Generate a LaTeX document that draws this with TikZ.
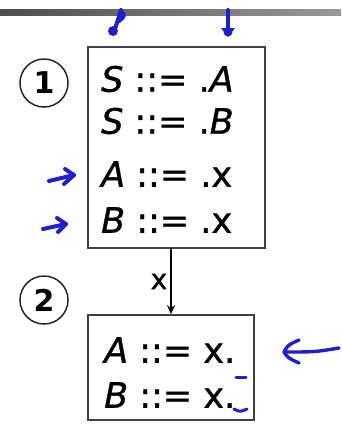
\documentclass[tikz,border=0pt]{standalone}
\usepackage{fontspec}
\setmainfont{DejaVu Sans}[FakeBold=1]
\newfontfamily\digitfont{DejaVu Sans}
\usetikzlibrary{arrows.meta}
\definecolor{pen}{RGB}{30,30,210}
\begin{document}
\begin{tikzpicture}[x=1pt,y=-1pt,
  statebox/.style={draw=black!75,line width=1.7pt,inner sep=0pt},
  rule/.style={anchor=west,inner sep=0pt,font=\fontsize{35}{40}\selectfont},
  numcirc/.style={draw=black!85,line width=1.5pt,circle,minimum size=48pt,inner sep=0pt,font=\digitfont\fontsize{30}{34}\selectfont\bfseries},
  ink/.style={draw=pen,line width=4pt,line cap=round,line join=round},
  edge/.style={draw=black,line width=1.5pt,-{Stealth[length=9pt,width=8pt]}}
]
\useasboundingbox (0,0) rectangle (341,424);
% top gray bar
\shade[left color=black!70,right color=black!40] (0,9) rectangle (341,15);
% boxes
\node[statebox,minimum width=177pt,minimum height=201pt] (box1) at (176.5,147.5) {};
\node[statebox,minimum width=166pt,minimum height=105pt] (box2) at (171,367.5) {};
% circles
\node[numcirc] (c1) at (44,83) {1};
\node[numcirc] (c2) at (44,300) {2};
% rules
\node[rule] (r1) at (101,79) {\textit{S} ::= .\textit{A}};
\node[rule] (r2) at (101,121) {\textit{S} ::= .\textit{B}};
\node[rule] (r3) at (101,174) {\textit{A} ::= .x};
\node[rule] (r4) at (101,220) {\textit{B} ::= .x};
\node[rule] (r5) at (104,350) {\textit{A} ::= x.};
\node[rule] (r6) at (104,395) {\textit{B} ::= x.};
% transition
\draw[edge] (box2.north |- box1.south) -- node[left,inner sep=3pt,font=\fontsize{28}{32}\selectfont] (lx) {x} (box2.north);
% hand-drawn blue marks
\draw[ink] (121,10) -- (115,29);
\draw[ink] (121,11) .. controls (125,16) .. (119,21);
\fill[pen] (113,31) circle (5pt);
\draw[ink] (228,10) -- (228,30);
\fill[pen] (228,37) -- (221,28) -- (235,28) -- cycle;
\fill[pen] (228,32) circle (4.5pt);
% left arrows
\draw[ink] (49,181) -- (74,175);
\draw[ink] (65,169) -- (74,175) -- (64,184);
\draw[ink] (43,229) -- (66,224);
\draw[ink] (57,218) -- (66,224) -- (58,232);
% right arrow
\draw[ink,line width=3.4pt] (339,348) .. controls (315,352) .. (284,352);
\draw[ink,line width=3.4pt] (299,340) .. controls (288,345) .. (284,352) .. controls (288,358) .. (299,363);
% underscores
\draw[ink,line width=3pt] (236,377) -- (246,377);
\draw[ink,line width=3pt] (234,409) .. controls (240,412) .. (247,409);
\end{tikzpicture}
\end{document}
